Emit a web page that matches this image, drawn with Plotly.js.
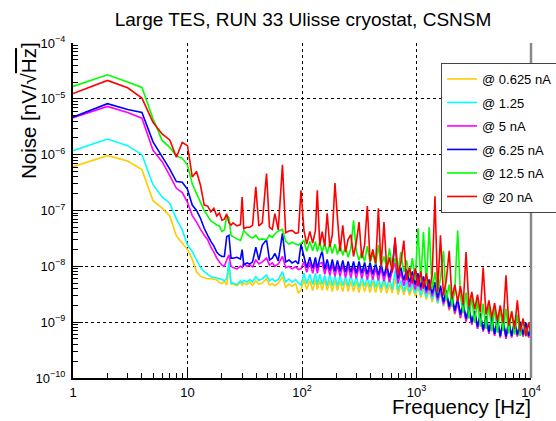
<!DOCTYPE html>
<html>
<head>
<meta charset="utf-8">
<script src="https://cdn.plot.ly/plotly-3.0.1.min.js"></script>
<style>html,body{margin:0;padding:0;background:#fff;}#chart{width:556px;height:421px;}</style>
</head>
<body>
<div id="chart"></div>
<script>
// Frequency grid [Hz]
const freq = [
 1,2,3,4,5,6,7,8,9,10,11,12,13,14,15,16,17,18,19,20,21,22,23,24,
 25,27,29,30,31,33,35,37,39.5,42,45,49,52,55,58,62,67.5,72,77,82,88,93,98,
 104,110,117,124,131,136,143,150,158,166,
 175,184,194,204,215,227,240,253,267,282,
 298,315,333,352,372,393,415,440,465,490,
 520,550,580,615,650,690,730,775,820,870,
 920,975,1030,1090,1150,1220,1290,1370,1450,1530,
 1620,1720,1820,1930,2040,2160,2290,2420,2560,2710,
 2870,3040,3220,3410,3610,3820,4050,4290,4540,4810,
 5090,5390,5710,6050,6400,6780,7180,7600,8050,8520,
 9020,9550,9990
];

const seriesNames = ['@ 0.625 nA','@ 1.25','@ 5 nA','@ 6.25 nA','@ 12.5 nA','@ 20 nA'];

const noise0625 = [
 6.1e-7,9.6e-7,7.7e-7,5.4e-7,1.5e-7,1.1e-7,8.0e-8,3.5e-8,2.6e-8,2.0e-8,1.35e-8,8.0e-9,6.6e-9,6.3e-9,6.0e-9,6.0e-9,5.9e-9,5.7e-9,5.1e-9,4.9e-9,5.4e-9,4.6e-9,1.0e-8,4.8e-9,
 4.8e-9,4.5e-9,5.2e-9,4.6e-9,5.0e-9,4.7e-9,5.2e-9,4.6e-9,5.5e-9,4.8e-9,5.0e-9,6.0e-9,4.6e-9,4.9e-9,4.5e-9,5.0e-9,6.5e-9,4.2e-9,4.8e-9,4.4e-9,4.9e-9,3.3e-9,3.8e-9,
 5.8e-9,3.85e-9,5.6e-9,3.7e-9,5.8e-9,3.85e-9,5.6e-9,3.7e-9,5.8e-9,3.7e-9,
 5.6e-9,3.55e-9,5.6e-9,3.7e-9,5.4e-9,3.55e-9,5.6e-9,3.55e-9,5.4e-9,3.55e-9,
 5.4e-9,3.4e-9,5.4e-9,3.55e-9,5.2e-9,3.4e-9,5.4e-9,3.4e-9,5.2e-9,3.4e-9,
 5.2e-9,3.3e-9,4.9e-9,3.3e-9,6.1e-9,3.1e-9,4.7e-9,3.1e-9,4.5e-9,3.0e-9,
 4.4e-9,2.9e-9,4.2e-9,2.75e-9,4.0e-9,2.55e-9,3.7e-9,2.3e-9,3.55e-9,2.15e-9,
 3.3e-9,1.9e-9,2.9e-9,1.6e-9,2.55e-9,1.37e-9,2.15e-9,1.16e-9,1.9e-9,1.02e-9,
 1.7e-9,9.0e-10,1.5e-9,7.6e-10,1.3e-9,6.8e-10,1.2e-9,6.2e-10,1.1e-9,5.7e-10,
 1.06e-9,5.3e-10,1.02e-9,5.0e-10,9.8e-10,5.3e-10,9.8e-10,5.5e-10,9.4e-10,5.5e-10,
 9.0e-10,5.3e-10,6.8e-10
];

const noise125 = [
 1.18e-6,1.91e-6,1.45e-6,1.0e-6,2.9e-7,1.75e-7,1.35e-7,7.0e-8,4.5e-8,2.4e-8,1.85e-8,1.3e-8,9.5e-9,8.0e-9,7.2e-9,6.5e-9,6.3e-9,6.2e-9,6.0e-9,5.8e-9,5.5e-9,6.0e-9,1.2e-8,5.0e-9,
 5.0e-9,4.7e-9,5.5e-9,5.0e-9,5.6e-9,5.2e-9,5.8e-9,5.3e-9,6.5e-9,5.6e-9,6.0e-9,7.0e-9,5.5e-9,6.0e-9,5.4e-9,5.8e-9,8.0e-9,5.3e-9,5.9e-9,5.2e-9,5.8e-9,5.0e-9,4.6e-9,
 7.5e-9,4.9e-9,7.2e-9,4.7e-9,7.5e-9,4.7e-9,7.2e-9,4.7e-9,6.9e-9,4.5e-9,
 7.2e-9,4.5e-9,6.9e-9,4.4e-9,6.9e-9,4.5e-9,6.6e-9,4.4e-9,6.9e-9,4.4e-9,
 6.6e-9,4.2e-9,6.6e-9,4.4e-9,6.3e-9,4.2e-9,6.6e-9,4.2e-9,6.3e-9,4.0e-9,
 6.3e-9,4.0e-9,6.1e-9,3.85e-9,8.4e-9,3.7e-9,5.6e-9,3.55e-9,5.4e-9,3.4e-9,
 5.2e-9,3.3e-9,4.9e-9,3.0e-9,4.5e-9,2.75e-9,4.2e-9,2.55e-9,3.85e-9,2.2e-9,
 3.55e-9,2.0e-9,3.0e-9,1.7e-9,2.65e-9,1.43e-9,2.2e-9,1.2e-9,2.0e-9,1.06e-9,
 1.75e-9,9.4e-10,1.55e-9,8.0e-10,1.37e-9,7.0e-10,1.26e-9,6.5e-10,1.16e-9,6.0e-10,
 1.1e-9,5.5e-10,1.06e-9,5.3e-10,1.02e-9,5.5e-10,1.02e-9,5.7e-10,9.8e-10,5.7e-10,
 9.4e-10,5.5e-10,6.8e-10
];

const noise5 = [
 4.6e-6,7.3e-6,5.7e-6,4.5e-6,1.2e-6,7.5e-7,4.2e-7,2.5e-7,2.1e-7,1.4e-7,8.1e-8,6.2e-8,4.6e-8,3.6e-8,3.0e-8,2.2e-8,1.8e-8,1.4e-8,1.2e-8,1.05e-8,1.0e-8,1.3e-8,1.6e-8,1.0e-8,
 9.5e-9,9.0e-9,1.0e-8,9.5e-9,1.15e-8,1.0e-8,1.05e-8,9.8e-9,1.3e-8,1.1e-8,1.2e-8,1.4e-8,1.05e-8,1.15e-8,1.0e-8,1.1e-8,1.5e-8,9.5e-9,1.0e-8,9.0e-9,9.8e-9,8.8e-9,9.0e-9,
 1.22e-8,7.8e-9,1.17e-8,7.5e-9,1.17e-8,7.5e-9,1.13e-8,1.17e-8,7.2e-9,1.08e-8,
 6.9e-9,1.08e-8,6.6e-9,1.04e-8,6.6e-9,1.04e-8,6.3e-9,1.0e-8,6.3e-9,1.0e-8,
 6.1e-9,1.0e-8,6.1e-9,9.5e-9,5.8e-9,9.5e-9,5.8e-9,9.2e-9,5.6e-9,9.2e-9,
 5.4e-9,8.8e-9,5.2e-9,8.4e-9,1.17e-8,4.9e-9,7.8e-9,4.5e-9,7.2e-9,4.2e-9,
 6.6e-9,3.85e-9,6.6e-9,3.7e-9,5.8e-9,3.3e-9,5.2e-9,2.9e-9,4.5e-9,2.45e-9,
 4.0e-9,2.1e-9,3.3e-9,1.7e-9,2.75e-9,1.43e-9,2.3e-9,1.2e-9,2.0e-9,1.02e-9,
 1.75e-9,9.0e-10,1.5e-9,7.6e-10,1.3e-9,6.8e-10,1.2e-9,6.2e-10,1.1e-9,5.7e-10,
 1.06e-9,5.3e-10,1.02e-9,5.0e-10,9.8e-10,5.3e-10,9.8e-10,5.5e-10,9.4e-10,5.5e-10,
 9.0e-10,5.3e-10,7.0e-10
];

const noise625 = [
 4.7e-6,8.2e-6,6.45e-6,5.7e-6,1.7e-6,9.2e-7,5.5e-7,3.3e-7,3.2e-7,2.4e-7,1.25e-7,1.0e-7,7.2e-8,4.8e-8,3.6e-8,2.8e-8,2.3e-8,1.8e-8,1.6e-8,1.5e-8,1.5e-8,3.4e-8,3.6e-8,1.4e-8,
 1.4e-8,1.45e-8,1.35e-8,2.0e-8,1.05e-8,1.15e-8,1.1e-8,1.2e-8,2.2e-8,1.3e-8,2.4e-8,3.0e-8,1.3e-8,1.4e-8,1.7e-8,1.25e-8,3.9e-8,1.2e-8,1.3e-8,1.15e-8,1.25e-8,1.1e-8,2.5e-8,
 1.5e-8,9.5e-9,1.45e-8,9.2e-9,1.45e-8,9.2e-9,1.4e-8,1.9e-8,8.8e-9,1.33e-8,
 8.4e-9,1.33e-8,8.1e-9,1.28e-8,8.1e-9,1.28e-8,7.8e-9,1.22e-8,7.8e-9,1.22e-8,
 7.5e-9,1.22e-8,7.5e-9,1.17e-8,7.2e-9,1.17e-8,7.2e-9,1.13e-8,6.9e-9,1.13e-8,
 6.6e-9,1.08e-8,6.3e-9,1.04e-8,2.9e-8,6.1e-9,9.5e-9,5.6e-9,8.8e-9,5.2e-9,
 8.1e-9,4.7e-9,7.5e-9,4.2e-9,6.6e-9,3.7e-9,5.8e-9,3.3e-9,5.2e-9,2.75e-9,
 4.5e-9,2.3e-9,3.7e-9,1.9e-9,3.1e-9,1.6e-9,2.65e-9,1.37e-9,2.2e-9,1.16e-9,
 1.9e-9,9.8e-10,1.6e-9,8.3e-10,1.43e-9,7.3e-10,1.3e-9,6.8e-10,1.2e-9,6.2e-10,
 1.16e-9,5.7e-10,1.1e-9,5.5e-10,1.06e-9,5.7e-10,1.06e-9,6.0e-10,1.02e-9,6.0e-10,
 9.8e-10,5.7e-10,7.6e-10
];

const noise125b = [
 1.67e-5,2.7e-5,2.0e-5,1.6e-5,4.4e-6,1.8e-6,1.35e-6,9.5e-7,8.6e-7,6.5e-7,3.0e-7,2.0e-7,1.4e-7,1.0e-7,8.0e-8,6.5e-8,6.0e-8,5.5e-8,5.3e-8,4.2e-8,4.5e-8,8.0e-8,7.5e-8,3.6e-8,
 3.4e-8,3.1e-8,2.9e-8,3.5e-8,4.4e-8,3.8e-8,3.4e-8,3.2e-8,3.6e-8,3.0e-8,3.1e-8,3.0e-8,3.6e-8,3.3e-8,3.8e-8,4.3e-8,4.6e-8,2.8e-8,2.5e-8,2.7e-8,2.5e-8,2.4e-8,2.6e-8,
 2.9e-8,1.85e-8,2.8e-8,1.9e-8,2.8e-8,1.85e-8,2.7e-8,1.8e-8,2.6e-8,1.7e-8,
 2.6e-8,1.7e-8,2.5e-8,1.63e-8,2.4e-8,1.57e-8,2.3e-8,1.45e-8,2.1e-8,6.7e-8,
 1.9e-8,1.28e-8,1.85e-8,1.22e-8,2.3e-8,1.17e-8,1.7e-8,1.08e-8,2.4e-8,1.0e-8,
 1.5e-8,9.5e-9,2.1e-8,9.2e-9,1.4e-8,8.4e-9,1.8e-8,7.8e-9,1.28e-8,6.6e-9,
 1.4e-8,5.8e-9,4.8e-8,5.4e-9,4.1e-8,4.7e-9,5.0e-8,3.85e-9,7.8e-9,3.3e-9,
 6.1e-9,1.9e-8,2.45e-9,4.7e-9,1.9e-9,3.7e-9,4.4e-8,2.9e-9,1.5e-9,3.4e-9,
 1.16e-9,2.8e-9,9.8e-10,2.45e-9,8.3e-10,2.15e-9,7.6e-10,2.0e-9,6.8e-10,1.83e-9,
 6.5e-10,1.75e-9,7.0e-10,1.75e-9,6.2e-10,1.6e-9,6.0e-10,1.37e-9,5.7e-10,1.16e-9,
 5.5e-10,9.8e-10,6.5e-10
];

const noise20 = [
 1.24e-5,2.14e-5,1.58e-5,1.03e-5,3.8e-6,2.35e-6,1.84e-6,9.0e-7,1.65e-6,1.45e-6,4.0e-7,5.0e-7,2.8e-7,1.25e-7,1.2e-7,9.5e-8,1.1e-7,8.0e-8,9.0e-8,6.7e-8,7.0e-8,8.7e-8,6.0e-8,5.5e-8,
 6.0e-8,5.3e-8,5.6e-8,1.75e-7,4.7e-8,5.0e-8,5.0e-8,5.5e-8,2.66e-7,5.3e-8,6.0e-8,4.6e-7,5.0e-8,4.6e-8,8.8e-8,4.5e-8,6.6e-7,4.0e-8,4.3e-8,4.4e-8,3.9e-8,4.0e-8,2.3e-7,
 4.4e-8,2.5e-8,4.2e-8,2.6e-8,4.4e-8,2.3e-7,2.4e-8,4.2e-8,2.3e-8,8.9e-8,
 2.2e-8,3.7e-8,3.1e-7,7.3e-8,1.85e-8,5.4e-8,1.8e-8,3.05e-8,3.7e-8,1.5e-8,
 2.7e-8,6.2e-8,1.4e-8,2.4e-8,1.2e-7,1.22e-8,2.0e-8,1.13e-8,1.1e-7,1.0e-8,
 6.2e-8,8.8e-9,1.45e-8,7.8e-9,3.3e-8,6.9e-9,1.17e-8,2.9e-8,5.6e-9,9.5e-9,
 4.9e-9,9.2e-9,4.4e-9,8.1e-9,4.0e-9,7.5e-9,3.7e-9,6.9e-9,1.8e-7,3.4e-9,
 3.6e-8,3.0e-9,5.6e-9,1.9e-8,2.65e-9,4.7e-9,2.3e-9,4.4e-9,2.1e-9,1.8e-8,
 1.9e-9,3.5e-9,1.7e-9,3.1e-9,1.5e-9,9.5e-9,1.37e-9,2.45e-9,1.2e-9,2.2e-9,
 1.06e-9,2.0e-9,9.8e-10,6.9e-9,8.7e-10,1.55e-9,7.6e-10,2.45e-9,6.8e-10,1.16e-9,
 5.7e-10,9.8e-10,6.2e-10
];

const xTickVals = [1, 10, 100, 1000, 10000];
const xTickText = ['1', '10', '10<sup>2</sup>', '10<sup>3</sup>', '10<sup>4</sup>'];
const yTickVals = [1e-10, 1e-9, 1e-8, 1e-7, 1e-6, 1e-5, 1e-4];
const yTickText = ['10<sup>−10</sup>','10<sup>−9</sup>','10<sup>−8</sup>','10<sup>−7</sup>','10<sup>−6</sup>','10<sup>−5</sup>','10<sup>−4</sup>'];

const allSeries = [noise0625, noise125, noise5, noise625, noise125b, noise20];
const colors = ['#ffcc00', '#00ffff', '#ff00ff', '#0000ff', '#00ff00', '#ff0000'];

const traces = allSeries.map((vals, i) => ({
  type: 'scatter', mode: 'lines',
  x: freq, y: vals, name: seriesNames[i],
  legendgroup: 'g' + i,
  line: {color: colors[i], width: 1.6, simplify: false},
  hoverinfo: 'skip'
}));

const FONT = 'Liberation Sans, Arial, Helvetica, sans-serif';
const axisCommon = {
  type: 'log', ticks: 'inside', ticklen: 10, tickwidth: 1, tickcolor: 'black',
  showline: true, linecolor: 'black', linewidth: 2, mirror: false,
  showgrid: true, gridcolor: 'black', griddash: 'dot', gridwidth: 1,
  zeroline: false, tickfont: {size: 13, family: FONT, color: 'black'},
  minor: {ticks: 'inside', ticklen: 5, tickcolor: 'black', tickwidth: 1, dtick: 'D1', showgrid: false},
  fixedrange: true
};

const layout = {
  width: 556, height: 421,
  margin: {l: 73, r: 25, t: 43, b: 43, pad: 0, autoexpand: false},
  paper_bgcolor: 'white', plot_bgcolor: 'white',
  font: {family: FONT, color: 'black', size: 13},
  title: {text: 'Large TES, RUN 33 Ulisse cryostat, CSNSM', x: 303/556, xanchor: 'center', y: 1 - 19/421, yanchor: 'middle', font: {size: 19, family: FONT}},
  xaxis: Object.assign({}, axisCommon, {range: [0, 4], tickmode: 'array', tickvals: xTickVals, ticktext: xTickText, ticklabelstandoff: 1}),
  yaxis: Object.assign({}, axisCommon, {range: [-10, -4], tickmode: 'array', tickvals: yTickVals, ticktext: yTickText, ticklabelstandoff: 3}),
  showlegend: true,
  legend: {x: (441-73)/458, y: 1 - (63-43)/335, xanchor: 'left', yanchor: 'top', bgcolor: 'white', bordercolor: '#444', borderwidth: 1,
           font: {size: 13, family: FONT}, traceorder: 'grouped', tracegroupgap: 3.6, itemwidth: 30},
  shapes: [
    {type: 'line', xref: 'paper', yref: 'paper', x0: 1, x1: 1, y0: 0, y1: 1, line: {color: '#888888', width: 2.5}}
  ],
  annotations: [
    {text: 'Frequency [Hz]', xref: 'paper', yref: 'paper', x: (533-73)/458, y: -(406-378)/335, xanchor: 'right', yanchor: 'middle', showarrow: false, font: {size: 20.5, family: FONT}},
    {text: 'Noise [nV/√<span style="text-decoration:overline">Hz</span>]', xref: 'paper', yref: 'paper', x: (28-73)/458, y: 1 - (111-43)/335, xanchor: 'center', yanchor: 'middle', textangle: -90, showarrow: false, font: {size: 20.5, family: FONT}}
  ]
};

Plotly.newPlot('chart', traces, layout, {displayModeBar: false, staticPlot: true});
</script>
</body>
</html>
